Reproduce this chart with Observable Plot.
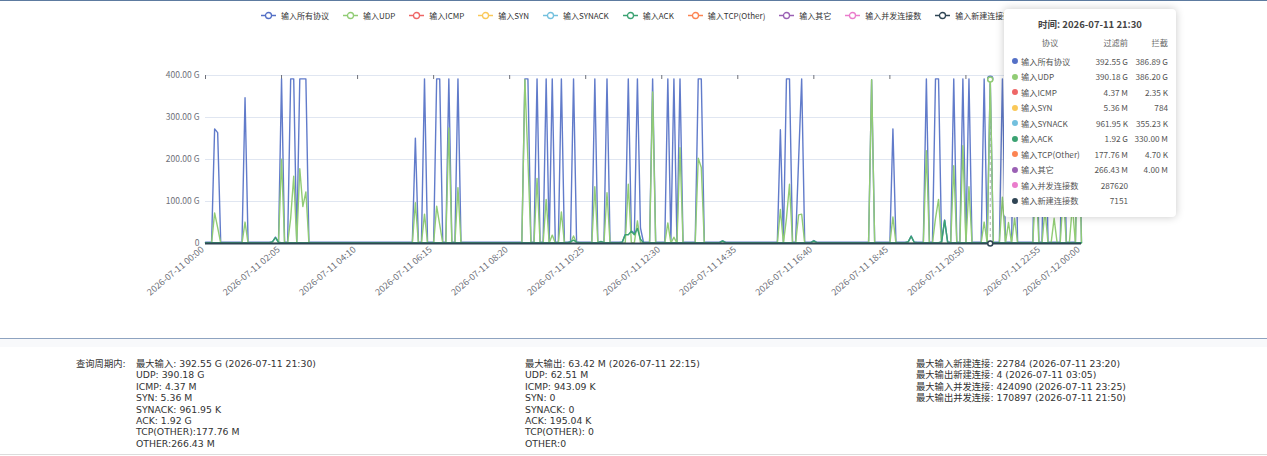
<!DOCTYPE html>
<html>
<head>
<meta charset="utf-8">
<script src="https://cdn.jsdelivr.net/npm/d3@7"></script>
<script src="https://cdn.jsdelivr.net/npm/@observablehq/plot@0.6"></script>
<style>
  html, body { margin: 0; padding: 0; background: #fff; }
  body { width: 1267px; height: 456px; overflow: hidden; font-family: "Microsoft YaHei", "Noto Sans CJK SC", "Noto Sans", sans-serif; }
  #wrap { position: relative; width: 1267px; height: 456px; border-top: 1px solid #5d7ba0; box-sizing: border-box; }
  #chart { position: absolute; left: 0; top: 0; }
  #legend { position: absolute; left: 261px; top: 9px; display: flex; gap: 14px; font-size: 8px; color: #333; white-space: nowrap; }
  #legend .item { display: flex; align-items: center; }
  #legend svg { margin-right: 5px; }
  #tip { position: absolute; left: 1004px; top: 8px; width: 172px; height: 208px; background: #fff; border-radius: 4px;
         box-shadow: 0 0 8px rgba(0,0,0,0.22); font-size: 8.2px; color: #555; }
  #tip .title { text-align: center; font-weight: bold; font-size: 9.5px; color: #444; margin-top: 8px; height: 14px; line-height: 14px; }
  #tip .row { display: grid; grid-template-columns: 8px 6px 3px 58px 49px 40px; height: 15.5px; line-height: 15.5px; white-space: nowrap; }
  #tip .head { color: #666; margin-top: 4px; margin-bottom: 3px; }
  #tip .dot { width: 6px; height: 6px; border-radius: 50%; align-self: center; }
  #tip .r { text-align: right; }
  #tip .c { text-align: center; }
  #sep { position: absolute; left: 0; top: 337px; width: 1267px; height: 1px; background: #8ea3c0; }
  #band { position: absolute; left: 0; top: 338px; width: 1267px; height: 8px; background: #f8f9fb; }
  #bottom { position: absolute; left: 0; top: 453px; width: 1267px; height: 1px; background: #dcdcdc; }
  .col { position: absolute; top: 357px; font-family: "DejaVu Sans", "Noto Sans CJK SC", sans-serif; font-size: 9.3px; letter-spacing: 0px; color: #333; line-height: 11.4px; white-space: nowrap; }
</style>
</head>
<body>
<div id="wrap">
  <div id="chart"></div>
  <div id="legend"></div>
  <div id="tip"></div>
  <div id="sep"></div>
  <div id="band"></div>
  <div id="bottom"></div>
  <div class="col" id="lab" style="left:76px"></div>
  <div class="col" id="col1" style="left:136px"></div>
  <div class="col" id="col2" style="left:525px"></div>
  <div class="col" id="col3" style="left:916px"></div>
</div>
<script>
// ---------- data ----------
const seriesNames = ["输入所有协议","输入UDP","输入ICMP","输入SYN","输入SYNACK","输入ACK","输入TCP(Other)","输入其它","输入并发连接数","输入新建连接数"];
const seriesColors = ["#5470c6","#91cc75","#ee6666","#fac858","#73c0de","#3ba272","#fc8452","#9a60b4","#ea7ccc","#2f4554"];

// x category ticks (5-minute buckets, index into the series)
const tickIdx = [0,25,50,75,100,125,150,175,200,225,250,275,288];
const tickLabels = ["2026-07-11 00:00","2026-07-11 02:05","2026-07-11 04:10","2026-07-11 06:15","2026-07-11 08:20","2026-07-11 10:25","2026-07-11 12:30","2026-07-11 14:35","2026-07-11 16:40","2026-07-11 18:45","2026-07-11 20:50","2026-07-11 22:55","2026-07-12 00:00"];
const yTicks = [0,100,200,300,400];
const yLabels = ["0","100.00 G","200.00 G","300.00 G","400.00 G"];

// 输入所有协议 (G), 289 points
const allProto = [
3,3,3,273,264,3,3,3,3,3,3,3,3,347,3,3,3,3,3,3,3,3,4,15,
3,392,3,3,392,392,3,392,392,392,3,3,3,3,3,3,3,3,3,3,3,3,3,3,
3,3,3,3,3,3,3,3,3,3,3,3,3,3,3,3,3,3,3,3,3,251,3,3,
392,3,3,3,392,392,3,3,392,3,3,392,3,3,3,3,3,3,3,3,3,3,3,3,
3,3,3,3,3,3,3,3,3,392,392,3,3,392,3,3,392,3,392,3,3,392,3,3,
3,392,3,3,3,3,3,3,392,3,3,3,392,3,3,3,3,3,22,392,30,24,392,37,
3,3,3,392,3,3,3,3,392,3,392,3,392,3,3,3,3,3,392,392,3,3,3,3,
3,3,6,3,3,3,3,3,3,3,3,3,3,3,3,3,3,3,3,3,3,271,3,392,
392,3,3,200,392,3,3,3,7,3,3,3,3,3,3,3,3,3,3,3,3,3,3,3,
3,3,3,390,3,3,3,3,3,3,273,3,3,3,3,3,18,3,3,3,3,392,3,3,
392,392,3,56,3,3,392,3,3,392,3,392,3,3,3,3,392,3,392.55,3,3,3,392,3,
3,3,392,3,3,3,3,3,3,392,3,3,392,3,3,3,3,3,392,3,3,3,3,392,
3
];
// 输入UDP (G)
const udp = [
1,1,1,73,38,1,1,1,1,1,1,1,1,51,1,1,1,1,1,1,1,1,1,1,
1,201,1,1,60,160,3,178,88,123,1,1,1,1,1,1,1,1,1,1,1,1,1,1,
1,1,1,1,1,1,1,1,1,1,1,1,1,1,1,1,1,1,1,1,1,97,1,1,
70,1,1,1,89,45,1,1,275,1,1,133,1,1,1,1,1,1,1,1,1,1,1,1,
1,1,1,1,1,1,1,1,1,390,200,1,1,155,1,1,105,1,20,1,1,75,1,1,
1,18,1,1,1,1,1,1,135,1,1,1,121,1,1,1,1,1,2,141,2,2,54,2,
1,1,1,361,1,1,1,1,49,1,15,1,228,1,1,1,1,1,203,181,1,1,1,1,
1,1,1,1,1,1,1,1,1,1,1,1,1,1,1,1,1,1,1,1,1,81,1,60,
141,1,1,68,70,1,1,1,1,1,1,1,1,1,1,1,1,1,1,1,1,1,1,1,
1,1,1,390,1,1,1,1,1,1,63,1,1,1,1,1,1,1,1,1,1,221,1,1,
60,105,1,1,1,1,185,1,1,233,1,135,1,1,1,1,51,1,390.18,1,1,1,110,1,
50,1,60,1,1,1,1,1,1,150,1,1,80,1,1,60,1,1,120,1,1,90,1,300,
1
];
// 输入ACK (G)
const ack = [
2,2,2,2,2,2,2,2,2,2,2,2,2,2,2,2,2,2,2,2,2,2,4,14,
3,2,2,2,2,2,2,2,2,2,2,2,2,2,2,2,2,2,2,2,2,2,2,2,
2,2,2,2,2,2,2,2,2,2,2,2,2,2,2,2,2,2,2,2,2,2,2,2,
2,2,2,2,2,2,2,2,2,2,2,2,2,2,2,2,2,2,2,2,2,2,2,2,
2,2,2,2,2,2,2,2,2,2,2,2,2,2,2,2,2,2,2,2,2,2,2,2,
4,8,3,2,2,2,2,2,2,2,5,2,2,2,2,2,2,3,21,21,29,21,36,10,
2,2,2,2,2,2,2,2,2,2,2,2,2,2,2,2,2,2,2,2,2,2,2,2,
2,2,6,2,2,2,2,2,2,2,2,2,2,2,2,2,2,2,2,2,2,2,2,2,
2,2,2,2,2,2,2,2,6,2,2,2,2,2,2,2,2,2,2,2,2,2,2,2,
2,2,2,2,2,2,2,2,2,2,2,2,2,2,2,4,17,3,2,2,2,2,2,2,
2,2,4,55,3,2,2,2,2,2,2,2,2,2,2,2,2,2,2,2,2,2,2,2,
2,2,2,2,2,2,2,2,2,2,2,2,2,2,2,2,2,2,2,2,2,2,2,2,
2
];

// hovered bucket and tooltip content
const hoverIdx = 258;
const hoverTime = "2026-07-11 21:30";
const tipBefore = ["392.55 G","390.18 G","4.37 M","5.36 M","961.95 K","1.92 G","177.76 M","266.43 M","287620","7151"];
const tipBlocked = ["386.89 G","386.20 G","2.35 K","784","355.23 K","330.00 M","4.70 K","4.00 M","",""];
const newConnAtHover = 7151;

// summary texts
const summaryLabel = "查询周期内:";
const summaryIn = ["最大输入: 392.55 G (2026-07-11 21:30)","UDP: 390.18 G","ICMP: 4.37 M","SYN: 5.36 M","SYNACK: 961.95 K","ACK: 1.92 G","TCP(OTHER):177.76 M","OTHER:266.43 M"];
const summaryOut = ["最大输出: 63.42 M (2026-07-11 22:15)","UDP: 62.51 M","ICMP: 943.09 K","SYN: 0","SYNACK: 0","ACK: 195.04 K","TCP(OTHER): 0","OTHER:0"];
const summaryConn = ["最大输入新建连接: 22784 (2026-07-11 23:20)","最大输出新建连接: 4 (2026-07-11 03:05)","最大输入并发连接: 424090 (2026-07-11 23:25)","最大输出并发连接: 170897 (2026-07-11 21:50)"];

// ---------- chart ----------
const font = '"Microsoft YaHei", "Noto Sans CJK SC", "Noto Sans", sans-serif';
const chart = Plot.plot({
  width: 1267,
  height: 337,
  marginLeft: 205,
  marginRight: 186,
  marginTop: 74,
  marginBottom: 95,
  x: {domain: [0, 288], axis: null},
  y: {domain: [0, 400], axis: null},
  style: {background: "transparent", fontFamily: font, overflow: "visible"},
  marks: [
    Plot.gridY(yTicks.slice(1), {stroke: "#e0e6f1", strokeOpacity: 1, strokeWidth: 1}),
    Plot.text(yTicks, {y: d => d, text: (d, i) => yLabels[i], frameAnchor: "left", textAnchor: "end", dx: -6, fill: "#6e7079", fontSize: 8.5}),
    Plot.tickX(tickIdx, {x: d => d, y1: 0, y2: 0, stroke: "#6e7079"}),
    Plot.text(tickIdx, {x: d => d, text: (d, i) => tickLabels[i], frameAnchor: "bottom", rotate: -40, textAnchor: "end", dx: -1, dy: 7, fill: "#6e7079", fontSize: 9}),
    Plot.ruleX([hoverIdx], {x: d => d, y1: 0, y2: 400, stroke: "#b0b0b0", strokeDasharray: "3,3", strokeWidth: 1}),
    Plot.lineY(allProto, {stroke: seriesColors[0], strokeWidth: 1.4, strokeOpacity: 0.92}),
    Plot.lineY(udp, {stroke: seriesColors[1], strokeWidth: 1.4}),
    Plot.lineY(ack, {stroke: seriesColors[5], strokeWidth: 1.5}),
    Plot.ruleY([0], {stroke: seriesColors[9], strokeWidth: 2}),
    Plot.dot([hoverIdx], {x: d => d, y: d => allProto[d], r: 2.5, fill: "#fff", stroke: seriesColors[0], strokeWidth: 1.5}),
    Plot.dot([hoverIdx], {x: d => d, y: d => udp[d], r: 2.5, fill: "#fff", stroke: seriesColors[1], strokeWidth: 1.5}),
    Plot.dot([hoverIdx], {x: d => d, y: () => newConnAtHover / 1e9, r: 2.5, fill: "#fff", stroke: seriesColors[9], strokeWidth: 1.5})
  ]
});
document.getElementById("chart").appendChild(chart);

// short tick marks just below the axis line
chart.querySelectorAll('g[aria-label="tick"] line').forEach(l => {
  const base = +l.getAttribute("y1");
  l.setAttribute("y2", base + 4);
});

// ---------- legend ----------
const legend = document.getElementById("legend");
seriesNames.forEach((name, i) => {
  const item = document.createElement("div");
  item.className = "item";
  item.innerHTML = `<svg width="15" height="9"><line x1="0" y1="4.5" x2="15" y2="4.5" stroke="${seriesColors[i]}" stroke-width="1.5"/><circle cx="7.5" cy="4.5" r="3" fill="#fff" stroke="${seriesColors[i]}" stroke-width="1.3"/></svg><span>${name}</span>`;
  legend.appendChild(item);
});

// ---------- tooltip ----------
const tip = document.getElementById("tip");
let html = `<div class="title">时间: ${hoverTime}</div>`;
html += `<div class="row head"><span></span><span></span><span></span><span class="c">协议</span><span class="r">过滤前</span><span class="r">拦截</span></div>`;
seriesNames.forEach((name, i) => {
  html += `<div class="row"><span></span><span class="dot" style="background:${seriesColors[i]}"></span><span></span><span>${name}</span><span class="r">${tipBefore[i]}</span><span class="r">${tipBlocked[i]}</span></div>`;
});
tip.innerHTML = html;

// ---------- summary ----------
document.getElementById("lab").textContent = summaryLabel;
document.getElementById("col1").innerHTML = summaryIn.map(s => `<div>${s}</div>`).join("");
document.getElementById("col2").innerHTML = summaryOut.map(s => `<div>${s}</div>`).join("");
document.getElementById("col3").innerHTML = summaryConn.map(s => `<div>${s}</div>`).join("");
</script>
</body>
</html>
